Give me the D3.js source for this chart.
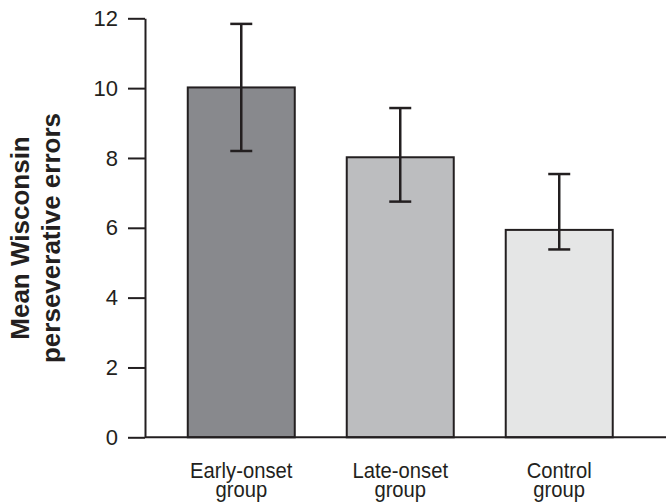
<!DOCTYPE html>
<html>
<head>
<meta charset="utf-8">
<script src="https://cdn.jsdelivr.net/npm/d3@7"></script>
<style>
  body { margin: 0; background: #fff; }
  svg { display: block; }
</style>
</head>
<body>
<div id="chart"></div>
<script>
// data
const groups = ["Early-onset group", "Late-onset group", "Control group"];
const means = [10.02, 8.02, 5.94];
const errHigh = [11.84, 9.43, 7.54];
const errLow = [8.2, 6.75, 5.38];
const fills = ["#88898d", "#bcbdbf", "#e5e6e6"];
const yTicks = [0, 2, 4, 6, 8, 10, 12];

const width = 668, height = 504;
const ink = "#231f20";

const svg = d3.select("#chart").append("svg")
  .attr("width", width)
  .attr("height", height);

const y = d3.scaleLinear().domain([0, 12]).range([437.3, 18.3]);
const x = d3.scaleBand()
  .domain(groups)
  .range([145, 655.5])
  .paddingInner(0.327)
  .paddingOuter(0.269);

// y axis
const yAxis = svg.append("g")
  .attr("transform", "translate(145,0)")
  .call(d3.axisLeft(y).tickValues(yTicks).tickSize(17).tickPadding(10).tickSizeOuter(0));
yAxis.select(".domain").attr("stroke", ink).attr("stroke-width", 2);
yAxis.selectAll(".tick line").attr("stroke", ink).attr("stroke-width", 2);
yAxis.selectAll(".tick text")
  .attr("fill", ink)
  .style("font-family", "'Liberation Sans', Arial, sans-serif")
  .style("font-size", "22px");

// bars
svg.selectAll(".bar")
  .data(groups)
  .join("rect")
  .attr("class", "bar")
  .attr("x", (d) => x(d))
  .attr("y", (d, i) => y(means[i]))
  .attr("width", x.bandwidth())
  .attr("height", (d, i) => y(0) - y(means[i]))
  .attr("fill", (d, i) => fills[i])
  .attr("stroke", ink)
  .attr("stroke-width", 2);

// x baseline
svg.append("line")
  .attr("x1", 145).attr("x2", 666)
  .attr("y1", y(0)).attr("y2", y(0))
  .attr("stroke", ink).attr("stroke-width", 2);

// error bars
const cap = 11;
const err = svg.selectAll(".err")
  .data(groups)
  .join("g")
  .attr("class", "err")
  .attr("stroke", ink)
  .attr("stroke-width", 2.5);
err.append("line")
  .attr("x1", (d) => x(d) + x.bandwidth() / 2)
  .attr("x2", (d) => x(d) + x.bandwidth() / 2)
  .attr("y1", (d, i) => y(errHigh[i]))
  .attr("y2", (d, i) => y(errLow[i]));
err.append("line")
  .attr("x1", (d) => x(d) + x.bandwidth() / 2 - cap)
  .attr("x2", (d) => x(d) + x.bandwidth() / 2 + cap)
  .attr("y1", (d, i) => y(errHigh[i]))
  .attr("y2", (d, i) => y(errHigh[i]));
err.append("line")
  .attr("x1", (d) => x(d) + x.bandwidth() / 2 - cap)
  .attr("x2", (d) => x(d) + x.bandwidth() / 2 + cap)
  .attr("y1", (d, i) => y(errLow[i]))
  .attr("y2", (d, i) => y(errLow[i]));

// category labels, two lines each, squeezed a little to look condensed
const cats = svg.selectAll(".cat")
  .data(groups)
  .join("g")
  .attr("class", "cat")
  .attr("transform", (d) => `translate(${x(d) + x.bandwidth() / 2},0) scale(0.92,1)`)
  .append("text")
  .attr("text-anchor", "middle")
  .attr("fill", ink)
  .style("font-family", "'Liberation Sans', Arial, sans-serif")
  .style("font-size", "22px");
cats.append("tspan").attr("x", 0).attr("y", 478).text((d) => d.split(" ")[0]);
cats.append("tspan").attr("x", 0).attr("y", 497).text((d) => d.split(" ")[1]);

// y axis title
const title = svg.append("text")
  .attr("transform", "translate(0,238) rotate(-90)")
  .attr("text-anchor", "middle")
  .attr("fill", ink)
  .style("font-family", "'Liberation Sans', Arial, sans-serif")
  .style("font-weight", "bold")
  .style("font-size", "26px");
title.append("tspan").attr("x", 0).attr("y", 29).text("Mean Wisconsin");
title.append("tspan").attr("x", 0).attr("y", 60).text("perseverative errors");
</script>
</body>
</html>
